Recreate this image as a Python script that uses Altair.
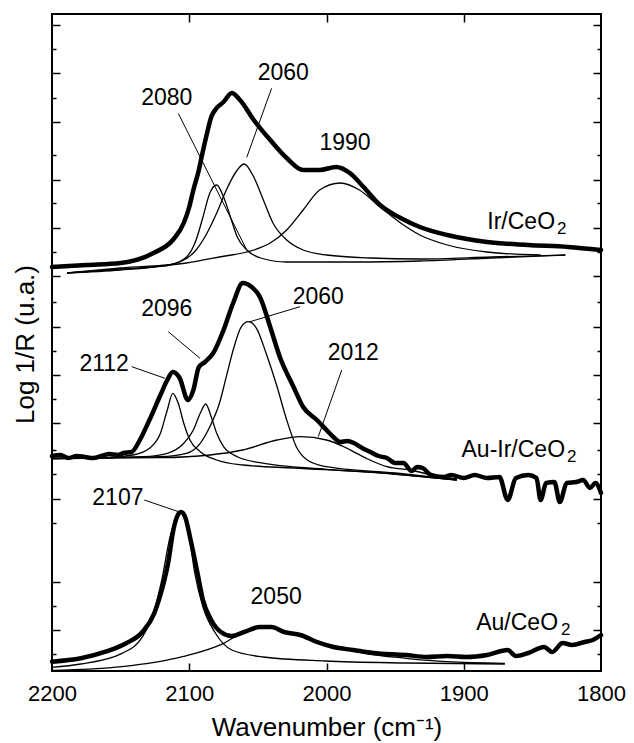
import altair as alt
import pandas as pd

FONT = "Liberation Sans"

# ---------------- Ir/CeO2 (top) ----------------
ir_wn = [2200, 2175, 2150, 2126, 2112, 2104, 2100, 2097, 2093, 2091, 2087, 2084, 2080, 2075,
         2069, 2063, 2053, 2041, 2029, 2017, 2005, 1993, 1983, 1973, 1961, 1946, 1932, 1912,
         1883, 1853, 1824, 1800]
ir_v = [404, 406, 408, 418, 431, 448, 464, 481, 501, 514, 538, 554, 563, 569,
        578, 571, 551, 531, 513, 501, 501, 504, 498, 484, 466, 453, 444, 436,
        429, 426, 424, 421]

ir_2080_wn = [2189, 2150, 2126, 2114, 2102, 2095, 2090, 2085, 2080, 2075, 2070, 2065, 2058,
              2048, 2029, 1981, 1932, 1880, 1826]
ir_2080_v = [398, 402, 404, 406, 414, 431, 454, 478, 486, 474, 454, 434, 421,
             413, 409, 409, 410, 413, 416]

ir_2060_wn = [2189, 2150, 2126, 2107, 2095, 2087, 2080, 2073, 2065, 2060, 2053, 2046, 2039,
              2029, 2017, 2000, 1968, 1932, 1880, 1826]
ir_2060_v = [398, 401, 404, 409, 421, 438, 458, 481, 501, 507, 494, 471, 448,
             431, 421, 416, 413, 412, 414, 416]

ir_1990_wn = [2189, 2150, 2102, 2078, 2053, 2041, 2029, 2017, 2005, 1990, 1976, 1961, 1946,
              1932, 1912, 1883, 1844]
ir_1990_v = [398, 403, 408, 414, 421, 428, 441, 461, 481, 488, 481, 464, 448,
             436, 426, 419, 416]

# ---------------- Au-Ir/CeO2 (middle) ----------------
auir_wn = [2200, 2194, 2188, 2182, 2176, 2170, 2164, 2158, 2152, 2148, 2142, 2136, 2129, 2121,
           2116, 2112, 2107, 2101, 2097, 2093, 2088.5, 2082.5, 2075, 2068, 2061, 2054.5, 2048.5,
           2041, 2034, 2024, 2017, 2007, 2000, 1995, 1990, 1985, 1980, 1974, 1968, 1962, 1956,
           1950, 1944, 1938, 1934, 1930, 1924, 1915, 1909, 1900, 1892, 1883, 1874, 1868, 1862,
           1853, 1847, 1844, 1840, 1834, 1830, 1825, 1818, 1813, 1808, 1804, 1800]
auir_v = [215, 216, 213, 215, 214, 213, 215, 217, 216, 218, 219, 231, 251, 276,
          291, 299, 293, 271, 281, 304, 309, 318, 341, 368, 388, 384, 374,
          344, 314, 284, 264, 251, 241, 234, 229, 230, 228, 223, 219, 215, 213,
          208, 208, 200, 204, 203, 196, 194, 196, 193, 196, 193, 194, 171, 193,
          196, 193, 171, 188, 189, 169, 188, 189, 191, 183, 188, 178]

auir_2112_wn = [2200, 2170, 2141, 2129, 2121, 2116, 2112, 2108, 2104, 2099.5, 2092, 2080, 2061,
                2024, 1960, 1905]
auir_2112_v = [212.5, 212.7, 216, 222.7, 237.7, 261, 277.7, 267.7, 247.7, 231, 219.3, 211, 206,
               203, 198, 191]

auir_2096_wn = [2200, 2133.5, 2116, 2104, 2097, 2092, 2088, 2084, 2080, 2075, 2065, 2048.5, 2000,
                1950, 1905]
auir_2096_v = [212.5, 214.3, 217.7, 227.7, 241, 257.7, 267, 254.3, 237.7, 224.3, 214.3, 208.3, 201.7,
               197, 191]

auir_2060_wn = [2200, 2121, 2102, 2092, 2085, 2078, 2073, 2068, 2062, 2057, 2051, 2044, 2036, 2029,
                2022, 2014, 2000, 1950, 1905]
auir_2060_v = [212.5, 214.3, 217.7, 227.7, 244.3, 267.7, 294.3, 321, 344.3, 349.3, 342.7, 317.7, 284.3,
               251, 224.3, 211, 204.3, 198, 191]

auir_2012_wn = [2200, 2121, 2085, 2061, 2036, 2019, 2000, 1985, 1971, 1956, 1939, 1920, 1905]
auir_2012_v = [212.5, 213.3, 216, 221, 231, 234.3, 231, 222.7, 212.7, 204.3, 201, 195, 192]

# ---------------- Au/CeO2 (bottom) ----------------
au_wn = [2200, 2179, 2161, 2146, 2134, 2125.5, 2120, 2115, 2112, 2109, 2106, 2103, 2099, 2094,
         2090, 2084, 2077, 2069, 2060, 2048.5, 2040, 2031, 2019, 2007, 1995, 1980.5, 1966, 1942,
         1927, 1912, 1898, 1883, 1868, 1862, 1853, 1841.5, 1835.5, 1828, 1821, 1812, 1806, 1800]
au_v = [9.3, 12.7, 19.3, 27.7, 39.3, 57.7, 81, 111, 138, 154, 159, 154, 131, 98,
        71, 51, 39, 35, 39, 44, 44, 39, 36, 29, 24, 21, 18, 16,
        14, 15, 14, 16, 21, 15, 18, 24, 19, 28, 26, 29, 31, 36]

au_2107_wn = [2200, 2179, 2149, 2134, 2125.5, 2120, 2114, 2106, 2100, 2096, 2090, 2081, 2069,
              2046, 2001, 1942, 1870]
au_2107_v = [3.7, 7, 17.7, 34.3, 61, 91, 134, 158, 134, 98, 64, 38, 21,
             14, 10, 8, 7]

au_2050_wn = [2200, 2149, 2105, 2075, 2060, 2046, 2031, 2013, 1992, 1972, 1942, 1912, 1870]
au_2050_v = [0.5, 4.3, 14.3, 27.7, 39.3, 44.3, 39.3, 32.7, 24.3, 17.7, 12.7, 9.3, 7.7]

# ---------------- annotations ----------------
num_text = ["2080", "2060", "1990", "2112", "2096", "2060", "2012", "2107", "2050"]
num_wn = [2116.4, 2031.5, 1986.5, 2162, 2116.4, 2006, 1980.5, 2152, 2036.7]
num_v = [572.7, 597.7, 527.7, 306.7, 361.7, 374.3, 318.3, 172.7, 74.3]

lead_wn1 = [2108, 2040, 2141.9, 2115.3, 2019.3, 1988.9, 2132.8]
lead_v1 = [557.7, 582.7, 304.3, 339.3, 364.3, 301, 171]
lead_wn2 = [2058.1, 2058.1, 2117.7, 2092.2, 2055.7, 2006, 2107.7]
lead_v2 = [421, 513.7, 292.7, 312.7, 349.3, 234.3, 159.3]

sample_text = ["Ir/CeO", "Au-Ir/CeO", "Au/CeO"]
sample_wn = [1833.5, 1826.2, 1831.3]
sample_v = [442, 214, 41]
sub_text = ["2", "2", "2"]
sub_wn = [1832, 1824.8, 1829.1]
sub_v = [437, 209, 36]

x_ticks = [2200, 2100, 2000, 1900, 1800]
x_inner_ticks = [2100, 2000, 1900]
y_major = [646, 598, 549, 491, 443, 395, 344, 296, 248, 172, 89, 41]
y_minor = [622, 573, 516, 468, 419, 369, 320, 272, 221, 197, 148, 65, 17]


def series(name, wn, v):
    return pd.DataFrame({"wn": wn, "v": v, "s": name, "i": list(range(len(wn)))})


thick = pd.concat([series("Ir", ir_wn, ir_v),
                   series("AuIr", auir_wn, auir_v),
                   series("Au", au_wn, au_v)])
thin = pd.concat([series("ir2080", ir_2080_wn, ir_2080_v),
                  series("ir2060", ir_2060_wn, ir_2060_v),
                  series("ir1990", ir_1990_wn, ir_1990_v),
                  series("ai2112", auir_2112_wn, auir_2112_v),
                  series("ai2096", auir_2096_wn, auir_2096_v),
                  series("ai2060", auir_2060_wn, auir_2060_v),
                  series("ai2012", auir_2012_wn, auir_2012_v),
                  series("au2107", au_2107_wn, au_2107_v),
                  series("au2050", au_2050_wn, au_2050_v)])
leaders = pd.DataFrame({"x1": lead_wn1, "y1": lead_v1, "x2": lead_wn2, "y2": lead_v2})
nums = pd.DataFrame({"wn": num_wn, "v": num_v, "t": num_text})
samples = pd.DataFrame({"wn": sample_wn, "v": sample_v, "t": sample_text})
subs = pd.DataFrame({"wn": sub_wn, "v": sub_v, "t": sub_text})

W, H = 549, 657
xs = alt.Scale(domain=[1800, 2200], reverse=True, nice=False, zero=False)
ys = alt.Scale(domain=[0, 657], nice=False, zero=False)

ax_x_labels = alt.Axis(orient="bottom", values=x_ticks, format="d", ticks=False, tickSize=0,
                       labelPadding=12, labelFontSize=22, labelFont=FONT, labelColor="black",
                       labelFlush=False, labelOverlap=False, domain=False, grid=False,
                       title="Wavenumber (cm⁻¹)", titleFont=FONT, titleFontSize=26,
                       titleFontWeight="normal", titleColor="black", titleY=64,
                       titleBaseline="alphabetic")
ax_x_bottom_ticks = alt.Axis(orient="top", offset=-H, values=x_inner_ticks, labels=False,
                             tickSize=8, domain=False, grid=False, title=None)
ax_x_top_ticks = alt.Axis(orient="bottom", offset=-H, values=x_inner_ticks, labels=False,
                          tickSize=8, domain=False, grid=False, title=None)

ax_y_title = alt.Axis(orient="left", labels=False, ticks=False, domain=False, grid=False,
                      title="Log 1/R (u.a.)", titleFont=FONT, titleFontSize=26,
                      titleFontWeight="normal", titleColor="black", titleX=-14, titleY=330,
                      titleAngle=270, titleAlign="center", titleBaseline="bottom")
ax_y_left_major = alt.Axis(orient="right", offset=-W, values=y_major, labels=False, tickSize=8,
                           domain=False, grid=False, title=None)
ax_y_left_minor = alt.Axis(orient="right", offset=-W, values=y_minor, labels=False, tickSize=4,
                           domain=False, grid=False, title=None)
ax_y_right_major = alt.Axis(orient="left", offset=-W, values=y_major, labels=False, tickSize=8,
                            domain=False, grid=False, title=None)
ax_y_right_minor = alt.Axis(orient="left", offset=-W, values=y_minor, labels=False, tickSize=4,
                            domain=False, grid=False, title=None)

thick_layer = alt.Chart(thick).mark_line(color="black", strokeWidth=4.5, interpolate="monotone",
                                         strokeJoin="round", strokeCap="round").encode(
    x=alt.X("wn:Q", scale=xs, axis=ax_x_labels),
    y=alt.Y("v:Q", scale=ys, axis=ax_y_title),
    detail="s:N",
    order="i:Q",
)

thin_layer = alt.Chart(thin).mark_line(color="black", strokeWidth=1.3, interpolate="monotone").encode(
    x=alt.X("wn:Q", scale=xs, axis=ax_x_bottom_ticks),
    y=alt.Y("v:Q", scale=ys, axis=ax_y_left_major),
    detail="s:N",
    order="i:Q",
)

lead_layer = alt.Chart(leaders).mark_rule(color="black", strokeWidth=1).encode(
    x=alt.X("x1:Q", scale=xs, axis=ax_x_top_ticks),
    x2="x2:Q",
    y=alt.Y("y1:Q", scale=ys, axis=ax_y_left_minor),
    y2="y2:Q",
)

num_layer = alt.Chart(nums).mark_text(font=FONT, fontSize=23, color="black", align="center",
                                      baseline="middle").encode(
    x=alt.X("wn:Q", scale=xs, axis=None),
    y=alt.Y("v:Q", scale=ys, axis=ax_y_right_major),
    text="t:N",
)

sample_layer = alt.Chart(samples).mark_text(font=FONT, fontSize=23, color="black", align="right",
                                            baseline="alphabetic").encode(
    x=alt.X("wn:Q", scale=xs, axis=None),
    y=alt.Y("v:Q", scale=ys, axis=ax_y_right_minor),
    text="t:N",
)

sub_layer = alt.Chart(subs).mark_text(font=FONT, fontSize=17, color="black", align="left",
                                      baseline="alphabetic").encode(
    x=alt.X("wn:Q", scale=xs, axis=None),
    y=alt.Y("v:Q", scale=ys, axis=None),
    text="t:N",
)

chart = alt.layer(
    thick_layer, thin_layer, lead_layer, num_layer, sample_layer, sub_layer
).resolve_axis(
    x="independent", y="independent"
).properties(
    width=W, height=H,
    padding={"left": 52, "top": 14, "right": 33, "bottom": 72},
    autosize=alt.AutoSizeParams(type="none"),
    background="white",
).configure_view(
    stroke="black", strokeWidth=2
).configure_axis(
    tickColor="black", tickWidth=1.5, labelColor="black", titleColor="black"
)

chart.save("out.html", embed_options={"renderer": "svg", "actions": False})
